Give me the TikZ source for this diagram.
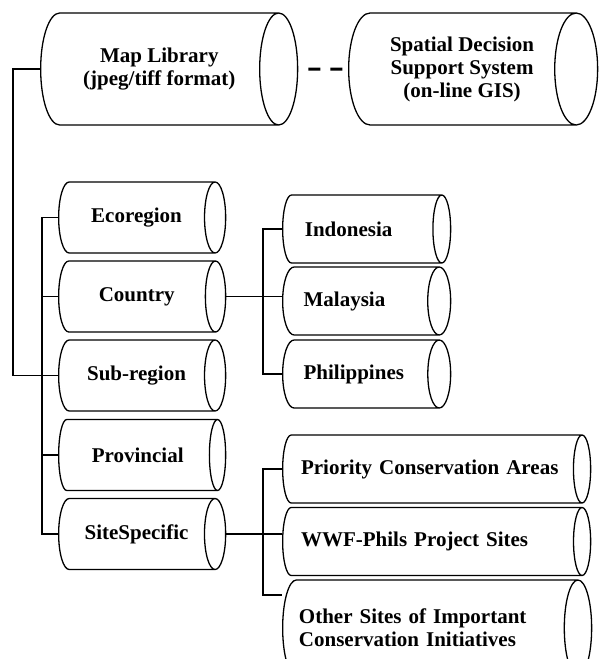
\documentclass[tikz,border=0pt]{standalone}
\usepackage{fontspec}
\setmainfont{Liberation Serif}
\usetikzlibrary{shapes.geometric}

% cylinder: width = diameter, height = length
\tikzset{
  drum/.style={cylinder, draw, line width=1.3pt, inner sep=0pt,
    font=\fontsize{21}{23}\selectfont\bfseries},
  topdrum/.style={drum, align=center, minimum width=112pt},
  leveldrum/.style={drum, align=center, minimum height=167pt, minimum width=71pt, aspect=1.1},
  listdrum/.style={drum, align=left, minimum width=68pt},
  link/.style={line width=1.3pt},
}

\begin{document}
\begin{tikzpicture}[x=1pt,y=1pt,line cap=butt,line join=miter]
\useasboundingbox (0,0) rectangle (608,-659);
\clip (0,0) rectangle (608,-659);
% top row
\node[topdrum, minimum height=257pt, aspect=0.9, anchor=west] (maplib) at (40,-69) {Map Library\\(jpeg/tiff format)};
\node[topdrum, minimum height=249pt, aspect=0.66, anchor=west] (sdss) at (348,-69) {Spatial Decision\\Support System\\(on-line GIS)};
\draw [line width=3pt, dash pattern=on 12pt off 10pt, dash phase=12pt] (maplib.east) -- (sdss.west);
% levels
\node[leveldrum, anchor=west] (eco) at (58,-217.5) {Ecoregion};
\node[leveldrum, anchor=west] (country) at (58,-296.5) {Country};
\node[leveldrum, anchor=west] (subreg) at (58,-375.5) {Sub-region};
\node[leveldrum, anchor=west] (prov) at (58,-455) {Provincial};
\node[leveldrum, anchor=west] (site) at (58,-534) {SiteSpecific};
% countries
\node[listdrum, minimum height=168pt, aspect=1.2, text width=114pt, anchor=west] (indo) at (282,-229) {Indonesia};
\node[listdrum, minimum height=168pt, aspect=1.2, text width=114pt, anchor=west] (malay) at (282,-301) {Malaysia};
\node[listdrum, minimum height=168pt, aspect=1.2, text width=114pt, anchor=west] (phil) at (282,-374) {Philippines};
% sites
\node[listdrum, minimum height=308pt, aspect=0.9, text width=262pt, anchor=west] (pca) at (282,-469) {Priority Conservation Areas};
\node[listdrum, minimum height=308pt, aspect=0.9, text width=262pt, anchor=west] (wwf) at (282,-541.5) {WWF-Phils Project Sites};
\node[listdrum, minimum height=309pt, minimum width=96pt, aspect=0.72, text width=262pt, anchor=west] (other) at (282,-628) {Other Sites of Important\\Conservation Initiatives};
% buses
\coordinate (outer) at (13,0);
\coordinate (inner) at (42,0);
\coordinate (bus) at (263,0);
\draw [link] (maplib.west) -- (maplib.west -| outer) |- (subreg.west -| inner);
\draw [link] (eco.west) -- (eco.west -| inner) |- (site.west);
\draw [link] (country.west) -- (country.west -| inner);
\draw [link] (subreg.west) -- (subreg.west -| inner);
\draw [link] (prov.west) -- (prov.west -| inner);
\draw [link] (country.east) -- (country.east -| malay.west);
\draw [link] (indo.west) -- (indo.west -| bus) |- (phil.west);
\draw [link] (site.east) -- (site.east -| wwf.west);
\draw [link] (pca.west) -- (pca.west -| bus) |- ([yshift=33pt]other.west);
\end{tikzpicture}
\end{document}
